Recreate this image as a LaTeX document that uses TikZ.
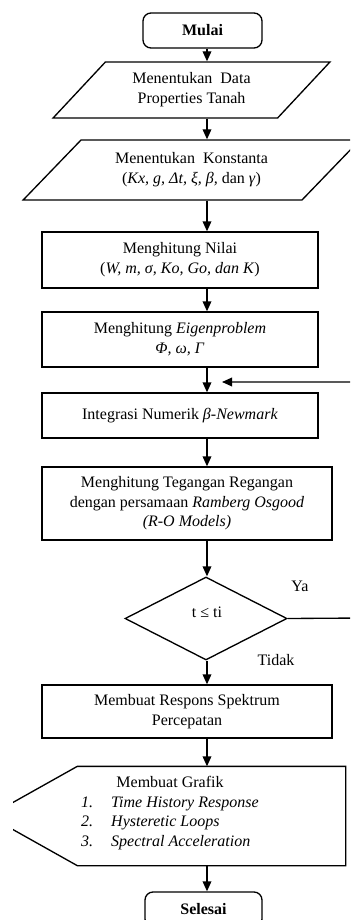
\documentclass[tikz,border=0pt]{standalone}
\usepackage{fontspec}
\setmainfont{Liberation Serif}
\usetikzlibrary{arrows.meta,shapes.geometric}

\tikzset{every picture/.style={line width=1pt}}
\tikzset{
  txt/.style={inner sep=0.75pt,align=center,font=\fontsize{12}{15}\selectfont},
  termbox/.style={txt,draw,rounded corners=6pt,font=\fontsize{12}{15}\selectfont\bfseries},
  probox/.style={txt,draw,rectangle},
  iobox/.style={txt,draw,trapezium,trapezium stretches=true},
  decbox/.style={txt,draw,diamond,inner sep=0pt},
  arr/.style={-{Triangle[length=7.5pt,width=6.5pt]}},
}

\begin{document}
\begin{tikzpicture}[x=0.75pt,y=0.75pt,yscale=-1,xscale=1]
		\useasboundingbox (0,0) rectangle (350,920);
		\clip (13,0) rectangle (350,920);
		\coordinate (spine) at (207,0);
		
		%Shape: Terminator [id:mulai]
		\node [termbox, minimum width=89.25pt, minimum height=26.25pt] (mulai) at (202.5,30.5) {Mulai};
		%Shape: Parallelogram [id:data]
		\node [iobox, trapezium left angle=45, trapezium right angle=135, minimum width=207.75pt, minimum height=42pt] (data) at (191.5,90) {Menentukan\ \ Data\\Properties Tanah};
		%Shape: Parallelogram [id:konst]
		\node [iobox, trapezium left angle=42, trapezium right angle=138, minimum width=252.75pt, minimum height=45pt] (konst) at (191.5,170) {Menentukan\ \ Konstanta\\(\textit{Kx, g, Δt, ξ, β,} dan \textit{γ})};
		%Shape: Rectangle [id:nilai]
		\node [probox, minimum width=207pt, minimum height=42pt] (nilai) at (180,260) {Menghitung Nilai\\(\textit{W, m, σ, Ko, Go, dan K})};
		%Shape: Rectangle [id:eigen]
		\node [probox, minimum width=207pt, minimum height=41.25pt] (eigen) at (180,339.5) {Menghitung \textit{Eigenproblem}\\\textit{Φ, ω, Γ}};
		%Shape: Rectangle [id:integ]
		\node [probox, minimum width=207pt, minimum height=33.75pt] (integ) at (180,415.5) {Integrasi Numerik \textit{β-Newmark}};
		%Shape: Rectangle [id:tegang]
		\node [probox, minimum width=217.5pt, minimum height=54.75pt, font=\fontsize{12}{14.6}\selectfont] (tegang) at (187,503.5) {Menghitung Tegangan Regangan\\dengan persamaan \textit{Ramberg Osgood}\\\textit{(R-O Models)}};
		%Shape: Diamond [id:cek]
		\node [decbox, minimum width=121.5pt, minimum height=62.25pt] (cek) at (206,618.5) {};
		\node [txt] (cektxt) at (207,612) {t ≤ ti};
		%Shape: Rectangle [id:respons]
		\node [probox, minimum width=217.5pt, minimum height=39.75pt] (respons) at (187,711.5) {Membuat Respons Spektrum\\Percepatan};
		%Shape: Display [id:grafik]
		\node [minimum width=200.25pt, minimum height=73.5pt, inner sep=0pt] (grafik) at (211.5,816) {};
		\draw (grafik.north west) -- (grafik.north east) -- (grafik.south east) -- (grafik.south west) -- ([xshift=-66.4pt]grafik.west) -- cycle ;
		\node [txt] (grafiktxt) at (170,813) {\fontsize{12}{14.8}\selectfont\begin{tabular}{@{}p{22.5pt}@{}l@{}}
			\multicolumn{2}{c}{Membuat Grafik}\\
			\textit{1.} & \textit{Time History Response}\\
			\textit{2.} & \textit{Hysteretic Loops}\\
			\textit{3.} & \textit{Spectral Acceleration}
		\end{tabular}};
		%Shape: Terminator [id:selesai]
		\node [termbox, minimum width=87.75pt, minimum height=26.25pt] (selesai) at (203.5,909.5) {Selesai};
		
		%connectors
		\draw [arr] (mulai.south -| spine) -- (data.north -| spine) ;
		\draw [arr] (data.south -| spine) -- (konst.north -| spine) ;
		\draw [arr] (konst.south -| spine) -- (nilai.north -| spine) ;
		\draw [arr] (nilai.south -| spine) -- (eigen.north -| spine) ;
		\draw [arr] (eigen.south -| spine) -- (integ.north -| spine) ;
		\draw [arr] (integ.south -| spine) -- (tegang.north -| spine) ;
		\draw [arr] (tegang.south -| spine) -- (cek.north -| spine) ;
		\draw [arr] (cek.south -| spine) -- (respons.north -| spine) ;
		\draw [arr] (respons.south -| spine) -- (grafik.north -| spine) ;
		\draw [arr] (grafik.south -| spine) -- (selesai.north -| spine) ;
		
		%loop back
		\coordinate (loopr) at (362,618);
		\coordinate (ret) at (222,382);
		\draw [arr] (cek.east) -- (loopr) |- (ret) ;
		
		\node [txt] (ya) at (300,586) {Ya};
		\node [txt] (tidak) at (276,660) {Tidak};
		
\end{tikzpicture}
\end{document}
